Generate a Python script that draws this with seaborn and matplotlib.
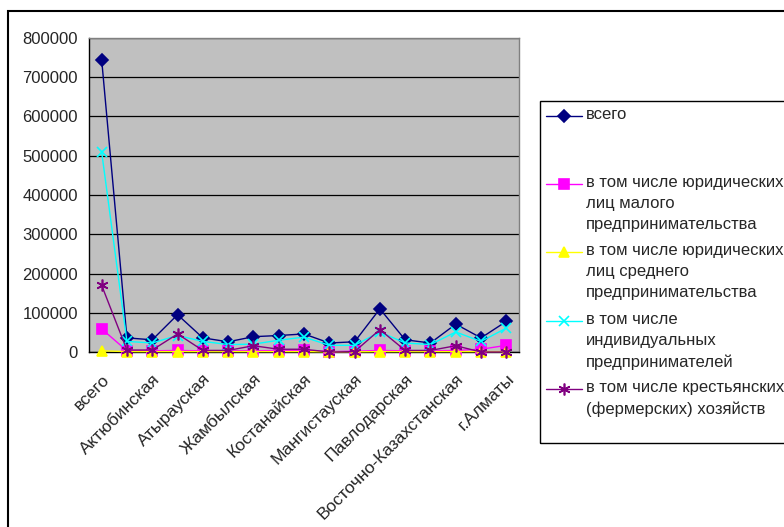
import pandas as pd
import seaborn as sns
import matplotlib.pyplot as plt
from matplotlib.lines import Line2D
from matplotlib.patches import Rectangle

# regions (x axis categories)
regions = ["всего", "Акмолинская", "Актюбинская", "Алматинская", "Атырауская",
           "Западно-Казахстанская", "Жамбылская", "Карагандинская", "Костанайская",
           "Кызылординская", "Мангистауская", "Южно-Казахстанская", "Павлодарская",
           "Северо-Казахстанская", "Восточно-Казахстанская", "г.Астана", "г.Алматы"]

# values
total = [745000, 36000, 31000, 95000, 36000, 26000, 39000, 42000, 46000,
         23000, 26000, 110000, 31000, 23000, 71000, 36000, 78000]
small_legal = [59000, 3000, 3000, 4000, 3000, 3000, 3000, 4000, 4000,
               1000, 2000, 4000, 3000, 3000, 4000, 7000, 17000]
medium_legal = [3000, 1000, 1000, 1000, 1000, 1000, 1000, 1000, 1000,
                500, 500, 1000, 1000, 1000, 1000, 1000, 1000]
individual = [510000, 27000, 23000, 42000, 27000, 19000, 20000, 30000, 38000,
              17000, 17000, 51000, 23000, 19000, 51000, 27000, 61000]
farms = [170000, 5000, 5000, 46000, 4000, 4000, 16000, 7000, 7000,
         0, 1000, 57000, 4000, 4000, 16000, 0, 0]

labels = ["всего",
          "в том числе юридических\nлиц малого\nпредпринимательства",
          "в том числе юридических\nлиц среднего\nпредпринимательства",
          "в том числе\nиндивидуальных\nпредпринимателей",
          "в том числе крестьянских\n(фермерских) хозяйств"]
series = [total, small_legal, medium_legal, individual, farms]
colors = ["#000080", "#FF00FF", "#FFFF00", "#00FFFF", "#800080"]
markers = ["D", "s", "^", "x", (6, 2, 0)]
msizes = [6, 6.5, 7.5, 7, 8.5]

sns.set_style("white")
plt.rcParams['font.family'] = ['Liberation Sans', 'DejaVu Sans']

W, H = 784, 527
fig = plt.figure(figsize=(W / 100, H / 100), dpi=100)


def fx(x):
    return x / W


def fy(y):
    return 1 - y / H


# outer chart frame
fig.patches.append(Rectangle((fx(8), fy(540)), fx(800), fy(11) - fy(540),
                             transform=fig.transFigure, fill=False,
                             edgecolor="black", lw=1.5))

ax = fig.add_axes([fx(89), fy(352), fx(519) - fx(89), fy(38) - fy(352)])
ax.set_facecolor("#C0C0C0")

pos = list(range(len(regions)))
for i, (vals, lab) in enumerate(zip(series, labels)):
    df = pd.DataFrame({"pos": pos, "value": vals})
    sns.lineplot(data=df, x="pos", y="value", ax=ax, color=colors[i],
                 marker=markers[i], markersize=msizes[i], markeredgecolor=colors[i],
                 markeredgewidth=1.2, lw=1, zorder=3 + i, clip_on=False)

ax.set_xlim(-0.5, len(regions) - 0.5)
ax.set_ylim(0, 800000)
ax.set_yticks(range(0, 800001, 100000))
ax.set_yticklabels([str(v) for v in range(0, 800001, 100000)], fontsize=12)
ax.grid(axis="y", color="black", lw=0.9)
ax.set_axisbelow(True)

ax.set_xticks(pos[::2])
ax.set_xticklabels(regions[::2], rotation=45, ha="right", rotation_mode="anchor",
                   fontsize=12.5)
ax.set_xticks([p - 0.5 for p in range(len(regions) + 1)], minor=True)
ax.tick_params(axis="x", which="major", length=0, pad=14)
ax.tick_params(axis="x", which="minor", length=5, width=1, color="black", direction="out")
ax.tick_params(axis="y", length=5, width=1, color="black", direction="out", pad=3)
ax.set_xlabel("")
ax.set_ylabel("")

for side in ["top", "right"]:
    ax.spines[side].set_color("#808080")
for side in ["left", "bottom"]:
    ax.spines[side].set_color("black")
for s in ax.spines.values():
    s.set_linewidth(1)

# legend box drawn by hand (Excel style)
fig.patches.append(Rectangle((fx(540), fy(443)), fx(260), fy(101) - fy(443),
                             transform=fig.transFigure, fill=False,
                             edgecolor="black", lw=1))
entry_y = [116, 184, 252, 321, 389]
for i, lab in enumerate(labels):
    y = fy(entry_y[i])
    fig.add_artist(Line2D([fx(546), fx(582)], [y, y], color=colors[i], lw=1,
                          transform=fig.transFigure))
    fig.add_artist(Line2D([fx(564)], [y], color=colors[i], marker=markers[i],
                          markersize=msizes[i], markeredgecolor=colors[i],
                          markeredgewidth=1.2, transform=fig.transFigure))
    fig.text(fx(586), fy(entry_y[i] - 9), lab, va="top", ha="left",
             fontsize=12, linespacing=1.5)

fig.savefig("out.png", dpi=100)
